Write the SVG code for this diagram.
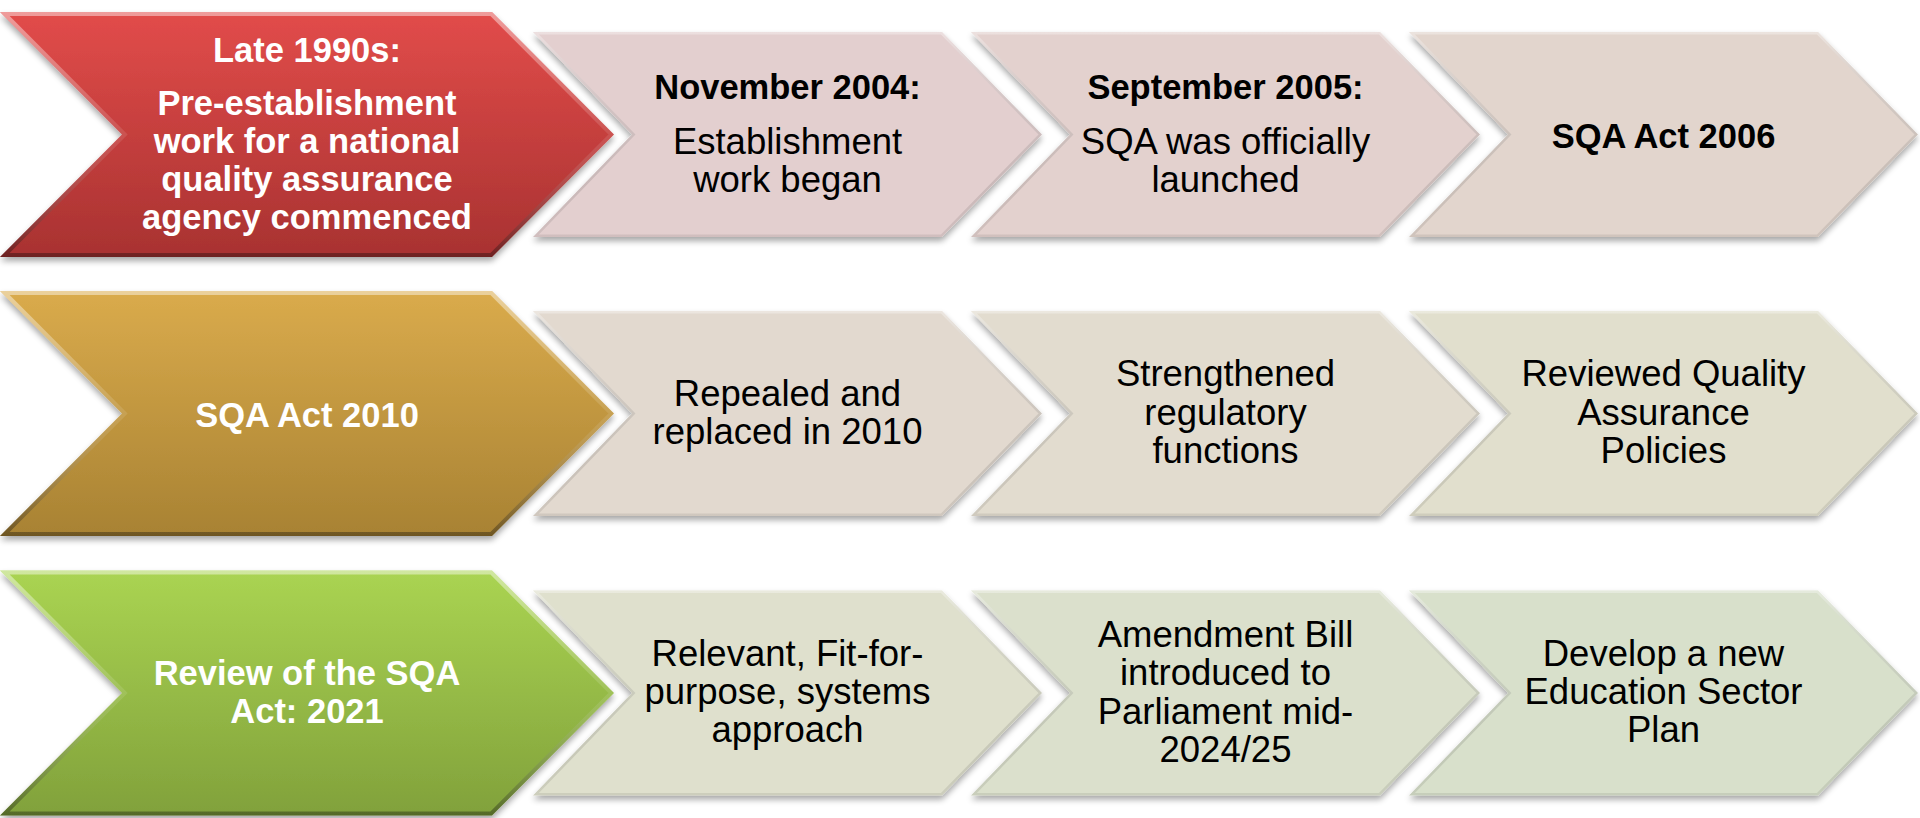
<svg xmlns="http://www.w3.org/2000/svg" width="1920" height="818" viewBox="0 0 1920 818">
  <defs>
    <style>
      .t { font-family: "Liberation Sans", Arial, sans-serif; text-anchor: middle; }
      .wb { fill: #ffffff; font-weight: bold; font-size: 34.5px; }
      .kb { fill: #000000; font-weight: bold; font-size: 34.5px; }
      .kr { fill: #000000; font-size: 36.5px; }
      .bevel { fill: none; stroke: url(#bevelGrad); stroke-width: 8; }
      .pbevel { fill: none; stroke: url(#pbevelGrad); stroke-width: 5; }
    </style>
    <filter id="shadow" x="-5%" y="-10%" width="110%" height="125%">
      <feGaussianBlur in="SourceAlpha" stdDeviation="3"/>
      <feOffset dx="0" dy="4" result="b"/>
      <feComponentTransfer><feFuncA type="linear" slope="0.35"/></feComponentTransfer>
      <feMerge><feMergeNode/><feMergeNode in="SourceGraphic"/></feMerge>
    </filter>
    <linearGradient id="redGrad" x1="0" y1="0" x2="0" y2="1">
      <stop offset="0" stop-color="#e24c4a"/>
      <stop offset="1" stop-color="#a83231"/>
    </linearGradient>
    <linearGradient id="goldGrad" x1="0" y1="0" x2="0" y2="1">
      <stop offset="0" stop-color="#daab4c"/>
      <stop offset="1" stop-color="#a88233"/>
    </linearGradient>
    <linearGradient id="greenGrad" x1="0" y1="0" x2="0" y2="1">
      <stop offset="0" stop-color="#aad452"/>
      <stop offset="1" stop-color="#81a13b"/>
    </linearGradient>
    <linearGradient id="bevelGrad" x1="0" y1="0" x2="0" y2="1">
      <stop offset="0" stop-color="#ffffff" stop-opacity="0.45"/>
      <stop offset="0.5" stop-color="#ffffff" stop-opacity="0.1"/>
      <stop offset="1" stop-color="#000000" stop-opacity="0.35"/>
    </linearGradient>
    <linearGradient id="pbevelGrad" x1="0" y1="0" x2="0" y2="1">
      <stop offset="0" stop-color="#ffffff" stop-opacity="0.35"/>
      <stop offset="1" stop-color="#000000" stop-opacity="0.08"/>
    </linearGradient>
    <clipPath id="bigClip"><polygon points="0,-122.5 492,-122.5 614,0 492,122.5 0,122.5 122,0"/></clipPath>
    <clipPath id="smallClip"><polygon points="0,-102.5 409,-102.5 509,0 409,102.5 0,102.5 99,0"/></clipPath>
    <polygon id="big" points="0,-122.5 492,-122.5 614,0 492,122.5 0,122.5 122,0"/>
    <polygon id="small" points="0,-102.5 409,-102.5 509,0 409,102.5 0,102.5 99,0"/>
  </defs>

  <!-- Row 1 -->
  <g id="node-late1990s" transform="translate(0,134.5)">
    <use href="#big" fill="url(#redGrad)" filter="url(#shadow)"/>
    <use href="#big" class="bevel" clip-path="url(#bigClip)"/>
    <text class="t wb" x="307" y="-72.5">Late 1990s:</text>
    <text class="t wb" x="307" y="-19.5">Pre-establishment</text>
    <text class="t wb" x="307" y="18">work for a national</text>
    <text class="t wb" x="307" y="56">quality assurance</text>
    <text class="t wb" x="307" y="94">agency commenced</text>
  </g>
  <g id="node-nov2004" transform="translate(533,134.5)">
    <use href="#small" fill="#e3cfcf" filter="url(#shadow)"/>
    <use href="#small" class="pbevel" clip-path="url(#smallClip)"/>
    <text class="t kb" x="254.5" y="-35.5">November 2004:</text>
    <text class="t kr" x="254.5" y="19.5">Establishment</text>
    <text class="t kr" x="254.5" y="57.5">work began</text>
  </g>
  <g id="node-sep2005" transform="translate(971,134.5)">
    <use href="#small" fill="#e3d1ce" filter="url(#shadow)"/>
    <use href="#small" class="pbevel" clip-path="url(#smallClip)"/>
    <text class="t kb" x="254.5" y="-35.5">September 2005:</text>
    <text class="t kr" x="254.5" y="19.5">SQA was officially</text>
    <text class="t kr" x="254.5" y="57.5">launched</text>
  </g>
  <g id="node-act2006" transform="translate(1409,134.5)">
    <use href="#small" fill="#e2d5cd" filter="url(#shadow)"/>
    <use href="#small" class="pbevel" clip-path="url(#smallClip)"/>
    <text class="t kb" x="254.5" y="13">SQA Act 2006</text>
  </g>

  <!-- Row 2 -->
  <g id="node-act2010" transform="translate(0,413.5)">
    <use href="#big" fill="url(#goldGrad)" filter="url(#shadow)"/>
    <use href="#big" class="bevel" clip-path="url(#bigClip)"/>
    <text class="t wb" x="307" y="13.5">SQA Act 2010</text>
  </g>
  <g id="node-repealed" transform="translate(533,413.5)">
    <use href="#small" fill="#e2d9cf" filter="url(#shadow)"/>
    <use href="#small" class="pbevel" clip-path="url(#smallClip)"/>
    <text class="t kr" x="254.5" y="-8">Repealed and</text>
    <text class="t kr" x="254.5" y="30.5">replaced in 2010</text>
  </g>
  <g id="node-strengthened" transform="translate(971,413.5)">
    <use href="#small" fill="#e2dccf" filter="url(#shadow)"/>
    <use href="#small" class="pbevel" clip-path="url(#smallClip)"/>
    <text class="t kr" x="254.5" y="-27.5">Strengthened</text>
    <text class="t kr" x="254.5" y="11">regulatory</text>
    <text class="t kr" x="254.5" y="49.5">functions</text>
  </g>
  <g id="node-reviewed" transform="translate(1409,413.5)">
    <use href="#small" fill="#e1dfcd" filter="url(#shadow)"/>
    <use href="#small" class="pbevel" clip-path="url(#smallClip)"/>
    <text class="t kr" x="254.5" y="-27.5">Reviewed Quality</text>
    <text class="t kr" x="254.5" y="11">Assurance</text>
    <text class="t kr" x="254.5" y="49.5">Policies</text>
  </g>

  <!-- Row 3 -->
  <g id="node-review2021" transform="translate(0,693)">
    <use href="#big" fill="url(#greenGrad)" filter="url(#shadow)"/>
    <use href="#big" class="bevel" clip-path="url(#bigClip)"/>
    <text class="t wb" x="307" y="-8">Review of the SQA</text>
    <text class="t wb" x="307" y="30">Act: 2021</text>
  </g>
  <g id="node-relevant" transform="translate(533,693)">
    <use href="#small" fill="#dfe0cd" filter="url(#shadow)"/>
    <use href="#small" class="pbevel" clip-path="url(#smallClip)"/>
    <text class="t kr" x="254.5" y="-27">Relevant, Fit-for-</text>
    <text class="t kr" x="254.5" y="11">purpose, systems</text>
    <text class="t kr" x="254.5" y="49">approach</text>
  </g>
  <g id="node-amendment" transform="translate(971,693)">
    <use href="#small" fill="#dbe0cc" filter="url(#shadow)"/>
    <use href="#small" class="pbevel" clip-path="url(#smallClip)"/>
    <text class="t kr" x="254.5" y="-46">Amendment Bill</text>
    <text class="t kr" x="254.5" y="-8">introduced to</text>
    <text class="t kr" x="254.5" y="30.5">Parliament mid-</text>
    <text class="t kr" x="254.5" y="69">2024/25</text>
  </g>
  <g id="node-develop" transform="translate(1409,693)">
    <use href="#small" fill="#d8e0cb" filter="url(#shadow)"/>
    <use href="#small" class="pbevel" clip-path="url(#smallClip)"/>
    <text class="t kr" x="254.5" y="-27">Develop a new</text>
    <text class="t kr" x="254.5" y="11">Education Sector</text>
    <text class="t kr" x="254.5" y="49">Plan</text>
  </g>

  <g id="connectors"></g>
</svg>
